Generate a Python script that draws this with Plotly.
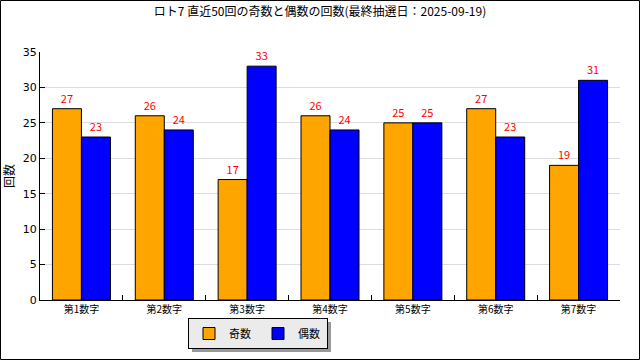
import plotly.graph_objects as go

categories = ["第1数字", "第2数字", "第3数字", "第4数字", "第5数字", "第6数字", "第7数字"]
odd_counts = [27, 26, 17, 26, 25, 27, 19]
even_counts = [23, 24, 33, 24, 25, 23, 31]
series_names = ["奇数", "偶数"]
title_text = "ロト7 直近50回の奇数と偶数の回数(最終抽選日：2025-09-19)"

FONT = "Noto Sans CJK JP"
L, R, T, B = 40, 20, 52, 60
W, H = 640, 360
pw, ph = W - L - R, H - T - B

def px_x(p):
    return (p - L) / pw

def px_y(p):
    return (H - B - p) / ph

fig = go.Figure()
for name, vals, col in [(series_names[0], odd_counts, "#FFA500"), (series_names[1], even_counts, "#0000FF")]:
    fig.add_trace(go.Bar(
        x=categories, y=vals, name=name,
        marker=dict(color=col, line=dict(color="black", width=1)),
        text=vals, textposition="outside",
        textfont=dict(color="red", size=11, family=FONT),
        cliponaxis=False,
    ))

shapes = [
    # outer border
    dict(type="rect", xref="paper", yref="paper",
         x0=px_x(0.5), x1=px_x(639.5), y0=px_y(359.5), y1=px_y(0.5),
         line=dict(color="black", width=1), layer="below"),
    # legend shadow
    dict(type="rect", xref="paper", yref="paper",
         x0=px_x(192), x1=px_x(331), y0=px_y(352), y1=px_y(322),
         line=dict(width=0), fillcolor="#999999", layer="below"),
]

fig.update_layout(
    width=W, height=H,
    margin=dict(l=L, r=R, t=T, b=B, autoexpand=False),
    paper_bgcolor="white", plot_bgcolor="white",
    font=dict(family=FONT, size=11, color="black"),
    title=dict(text=title_text, x=0.5, xanchor="center", y=1 - 12 / H, yanchor="middle",
               font=dict(size=12, family=FONT)),
    barmode="group", bargap=0.3, bargroupgap=0,
    showlegend=True,
    legend=dict(orientation="h", x=px_x(188), y=px_y(318), xanchor="left", yanchor="top",
                bgcolor="#EBEBEB", bordercolor="black", borderwidth=1,
                font=dict(size=11, family=FONT), itemwidth=30,
                tracegroupgap=0, entrywidth=24),
    shapes=shapes,
    xaxis=dict(showline=True, linecolor="black", linewidth=1, ticks="inside", ticklen=5,
               tickson="boundaries", tickcolor="black", showgrid=False,
               tickfont=dict(size=10, family=FONT), mirror=False),
    yaxis=dict(range=[0, 35], dtick=5, showline=True, linecolor="black", linewidth=1,
               ticks="inside", ticklen=5, tickcolor="black",
               showgrid=True, gridcolor="#DDDDDD", gridwidth=1, zeroline=False,
               tickfont=dict(size=11, family="DejaVu Sans"),
               title=dict(text="回数", font=dict(size=12, family=FONT), standoff=8)),
)

fig.write_html("out.html", config={"displayModeBar": False},
               post_script="document.body.style.margin='0';document.body.style.overflow='hidden';")
